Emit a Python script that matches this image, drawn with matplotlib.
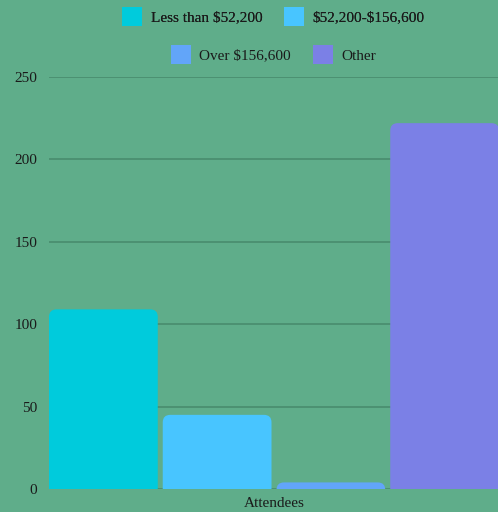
import matplotlib
matplotlib.use("Agg")
import matplotlib.pyplot as plt
from matplotlib.patches import FancyBboxPatch, Patch

categories = ["Attendees"]
series_names = ["Less than $52,200", "$52,200-$156,600", "Over $156,600", "Other"]
series_values = [109, 45, 4, 222]
colors = ["#00CBDC", "#48C5FF", "#62A5F9", "#7B80E6"]
yticks = [0, 50, 100, 150, 200, 250]

bg = "#5FAD8A"
grid_c = "#4B8F70"
text_c = "#1A1A1A"
plt.rcParams['font.family'] = ['Liberation Serif', 'DejaVu Serif']
plt.rcParams['text.parse_math'] = False
FS = 11

W, H = 4.98, 5.12
fig = plt.figure(figsize=(W, H), dpi=100, facecolor=bg)
left, right = 49 / 498, 499 / 498
bottom, top = (512 - 489) / 512, (512 - 77) / 512
ax = fig.add_axes([left, bottom, right - left, top - bottom], facecolor=bg)

n = len(series_names)
width = 109 / 114
xs = list(range(n))
ax.set_xlim(-width / 2, n - 1 + width / 2)
ax.set_ylim(0, 250)

bars = ax.bar(xs, series_values, width=width, color=colors, zorder=2)
# replace with rounded-top patches
ax_w_px = (right - left) * W * 100
ax_h_px = (top - bottom) * H * 100
xu = (n - 1 + width) / ax_w_px
yu = 250 / ax_h_px
r_px = 7.5
for b, c in zip(bars, colors):
    x0, y0 = b.get_x(), b.get_y()
    w, h = b.get_width(), b.get_height()
    b.set_visible(False)
    p = FancyBboxPatch((x0, y0 - r_px * yu * 2), w, h + r_px * yu * 2,
                       boxstyle=f"round,pad=0,rounding_size={r_px * xu}",
                       mutation_aspect=yu / xu, facecolor=c, edgecolor="none",
                       zorder=2, transform=ax.transData)
    p.set_clip_on(True)
    ax.add_patch(p)

ax.set_yticks(yticks)
ax.set_yticklabels([str(t) for t in yticks], fontsize=FS, color=text_c)
ax.set_xticks([(n - 1) / 2])
ax.set_xticklabels(categories, fontsize=FS, color=text_c)
ax.tick_params(axis='both', length=0)
ax.tick_params(axis='y', pad=8.6)
ax.tick_params(axis='x', pad=5.5)
ax.yaxis.grid(True, color=grid_c, linewidth=1.3, zorder=0)
ax.set_axisbelow(True)
for s in ax.spines.values():
    s.set_visible(False)

handles = [Patch(facecolor=c, edgecolor="none") for c in colors]
cx = (49 + 498) / 2 / 498
kw = dict(ncol=2, loc="center", frameon=False, fontsize=FS, handlelength=1.3,
          handleheight=1.5, handletextpad=0.55, columnspacing=1.45,
          labelcolor=text_c)
leg1 = fig.legend(handles[:2], series_names[:2],
                  bbox_to_anchor=(cx, 1 - 16.5 / 512), **kw)
fig.add_artist(leg1)
leg2 = fig.legend(handles[2:], series_names[2:],
                  bbox_to_anchor=(cx, 1 - 54.5 / 512), **kw)

fig.savefig("out.png", dpi=100, facecolor=bg)
